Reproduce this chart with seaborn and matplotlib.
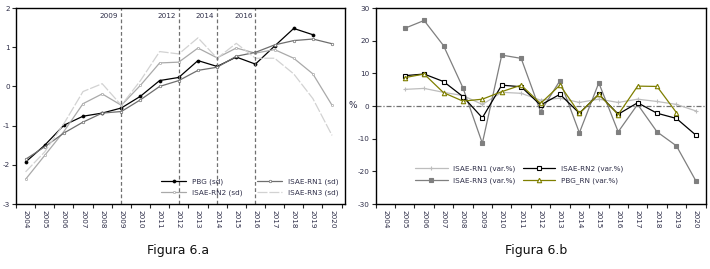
import numpy as np
import pandas as pd
import matplotlib
matplotlib.use("Agg")
import matplotlib.pyplot as plt
import seaborn as sns

# dati
anni = [str(a) for a in range(2004, 2021)]

# Figura 6.a - serie standardizzate (sd)
pbg_sd = [-1.93, -1.50, -0.99, -0.76, -0.68, -0.55, -0.25, 0.15, 0.23, 0.66, 0.51,
          0.75, 0.57, 1.03, 1.48, 1.32, np.nan]
rn1_sd = [-1.86, -1.54, -1.19, -0.91, -0.68, -0.64, -0.34, 0.00, 0.15, 0.41, 0.49,
          0.77, 0.87, 1.06, 1.17, 1.21, 1.09]
rn2_sd = [-2.37, -1.76, -1.15, -0.44, -0.19, -0.48, 0.03, 0.60, 0.62, 0.98, 0.73,
          0.98, 0.85, 0.94, 0.72, 0.32, -0.48]
rn3_sd = [-2.18, -1.67, -0.95, -0.13, 0.07, -0.48, 0.15, 0.89, 0.83, 1.24, 0.72,
          1.10, 0.72, 0.72, 0.32, -0.31, -1.25]
anni_evidenza = ["2009", "2012", "2014", "2016"]

# Figura 6.b - variazioni percentuali
rn1_var = [np.nan, 5.1, 5.4, 4.2, 3.2, 0.5, 4.2, 3.9, 1.8, 2.4, 1.1, 2.1, 1.1, 2.1,
           1.4, 0.5, -1.5]
rn2_var = [np.nan, 9.3, 9.8, 7.5, 2.9, -3.6, 6.4, 5.9, 0.3, 3.6, -2.2, 3.6, -2.5,
           1.0, -2.2, -3.8, -8.9]
rn3_var = [np.nan, 23.8, 26.2, 18.5, 5.6, -11.4, 15.6, 14.6, -1.7, 7.8, -8.2, 7.1,
           -7.9, 0.5, -7.9, -12.2, -22.9]
pbg_var = [np.nan, 8.7, 9.8, 4.1, 1.5, 2.1, 4.4, 6.4, 0.8, 6.4, -2.2, 3.6, -2.6,
           6.1, 6.0, -2.0, np.nan]

sns.set_style("ticks")
plt.rcParams["font.family"] = ["DejaVu Sans"]
plt.rcParams["axes.unicode_minus"] = False
testo = "#2e2e48"

fig = plt.figure(figsize=(7.1, 2.69), dpi=100)
ax1 = fig.add_axes([0.0225, 0.2416, 0.4635, 0.7284])
ax2 = fig.add_axes([0.529, 0.2416, 0.465, 0.7284])

x = np.arange(len(anni))


def asse_anni(ax, xmin, xmax):
    ax.set_xlim(xmin, xmax)
    ax.set_xticks(x)
    ax.set_xticklabels(anni, rotation=270, fontsize=5.2, color=testo)
    ax.set_xticks(np.arange(len(anni) + 1) - 0.5, minor=True)
    ax.tick_params(axis="x", which="major", length=0, pad=4)
    ax.tick_params(axis="x", which="minor", length=3, width=0.8, direction="out")
    ax.tick_params(axis="y", length=3, width=0.8, labelsize=5.2, labelcolor=testo, pad=1.5)
    for s in ax.spines.values():
        s.set_linewidth(1.0)
        s.set_color("black")


# --- Figura 6.a ---
for v, col, ls, mk, ms, lab in [
    (pbg_sd, "black", "-", "o", 2.2, "PBG (sd)"),
    (rn2_sd, "#a9a9a9", "-", "o", 1.6, "ISAE-RN2 (sd)"),
    (rn1_sd, "#6e6e6e", "-", "o", 1.8, "ISAE-RN1 (sd)"),
    (rn3_sd, "#d2d2d2", (0, (8, 1.5)), None, 0, "ISAE-RN3 (sd)"),
]:
    sns.lineplot(x=x, y=v, ax=ax1, color=col, linestyle=ls, linewidth=0.9,
                 marker=mk, markersize=ms, markeredgewidth=0.5,
                 markerfacecolor=col if lab == "PBG (sd)" else "white",
                 markeredgecolor=col, label=lab)

for a in anni_evidenza:
    i = anni.index(a)
    ax1.axvline(i, color="#707070", linestyle=(0, (3, 2)), linewidth=0.9)
    ax1.text(i - 0.15, 1.88, a, ha="right", va="top", fontsize=5.2, color=testo)

ax1.set_ylim(-3, 2)
ax1.set_yticks([-3, -2, -1, 0, 1, 2])
asse_anni(ax1, -0.47, 16.68)
ax1.legend(loc="lower right", ncol=2, frameon=False, fontsize=5.2, handlelength=3.5,
           columnspacing=2.0, labelspacing=0.55, borderaxespad=0.5, labelcolor=testo,
           bbox_to_anchor=(1.0, 0.01))

# --- Figura 6.b ---
ax2.axhline(0, color="#707070", linestyle=(0, (4, 1.5, 1, 1.5)), linewidth=0.9)
for v, col, mk, fc, lab in [
    (rn1_var, "#bdbdbd", "+", "#bdbdbd", "ISAE-RN1 (var.%)"),
    (rn3_var, "#7f7f7f", "s", "#7f7f7f", "ISAE-RN3 (var.%)"),
    (rn2_var, "black", "s", "white", "ISAE-RN2 (var.%)"),
    (pbg_var, "#7f7f00", "^", "white", "PBG_RN (var.%)"),
]:
    sns.lineplot(x=x, y=v, ax=ax2, color=col, linewidth=0.9, marker=mk,
                 markersize=3.2, markerfacecolor=fc, markeredgecolor=col,
                 markeredgewidth=0.8, label=lab)

ax2.set_ylim(-30, 30)
ax2.set_yticks(range(-30, 31, 10))
asse_anni(ax2, -0.48, 16.51)
fig.text(353 / 710, 1 - 106 / 269, "%", ha="center", va="center", fontsize=6.5, color=testo)
ax2.legend(loc="lower left", ncol=2, frameon=False, fontsize=5.2, handlelength=4.5,
           columnspacing=1.0, labelspacing=0.7, labelcolor=testo,
           bbox_to_anchor=(0.1, 0.07))

fig.text(0.251, 0.07, "Figura 6.a", ha="center", va="center", fontsize=9, color="#111")
fig.text(0.755, 0.07, "Figura 6.b", ha="center", va="center", fontsize=9, color="#111")

fig.savefig("out.png", dpi=100)
